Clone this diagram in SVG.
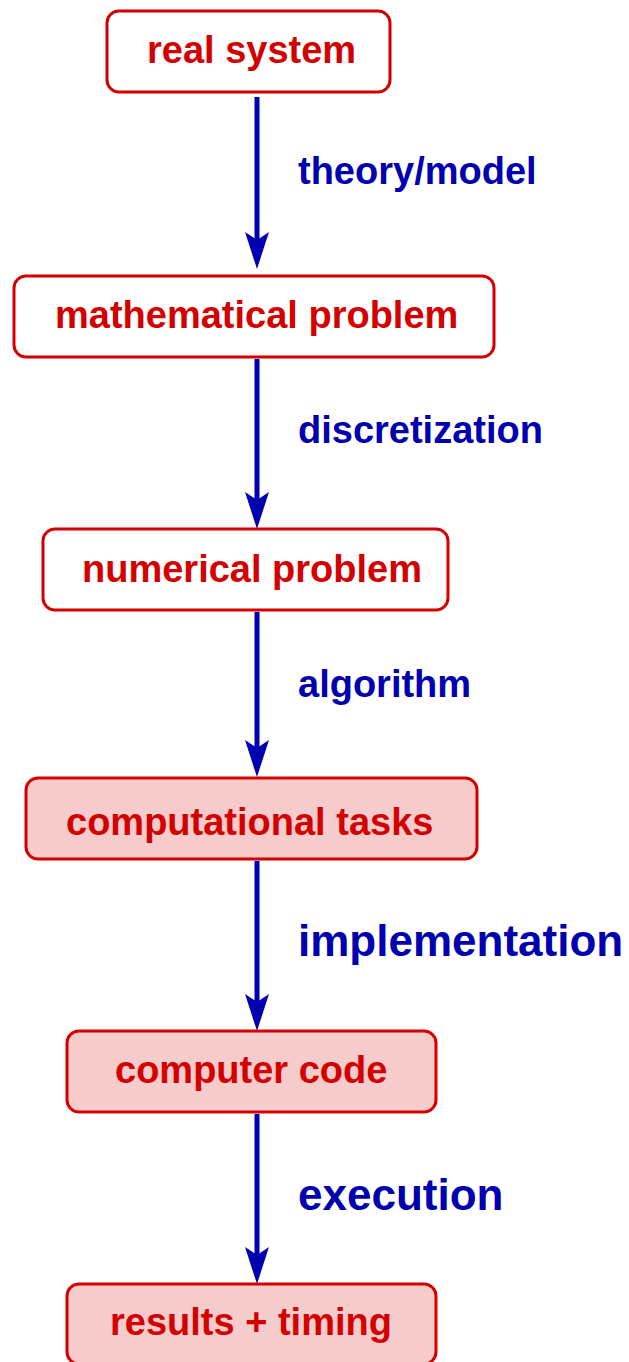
<svg xmlns="http://www.w3.org/2000/svg" width="629" height="1362" viewBox="0 0 629 1362">
<defs>
<style>
.box{fill:#ffffff;stroke:#d40000;stroke-width:3}
.box.f{fill:#f5cbcb}
.nt{font-family:"Liberation Sans",Arial,sans-serif;font-weight:bold;font-size:38px;fill:#d40000}
.lt{font-family:"Liberation Sans",Arial,sans-serif;font-weight:bold;font-size:38px;fill:#0000b0}
.lt.big{font-size:44px}
.ar{stroke:#0000b0;stroke-width:5;fill:none}
.ah{fill:#0000b0}
</style>
</defs>
<rect width="629" height="1362" fill="#ffffff"/>
<g id="connectors">
<line class="ar" x1="257" y1="97" x2="257" y2="240"/>
<polygon class="ah" points="245,232 257,269 269,232 257,240"/>
<line class="ar" x1="257" y1="359" x2="257" y2="500"/>
<polygon class="ah" points="245,492 257,529 269,492 257,500"/>
<line class="ar" x1="257" y1="612" x2="257" y2="748"/>
<polygon class="ah" points="245,740 257,777 269,740 257,748"/>
<line class="ar" x1="257" y1="861" x2="257" y2="1002"/>
<polygon class="ah" points="245,994 257,1031 269,994 257,1002"/>
<line class="ar" x1="257" y1="1114" x2="257" y2="1255"/>
<polygon class="ah" points="245,1247 257,1284 269,1247 257,1255"/>
<text class="lt" x="298" y="184">theory/model</text>
<text class="lt" x="298" y="443">discretization</text>
<text class="lt" x="298" y="697">algorithm</text>
<text class="lt big" x="298" y="956">implementation</text>
<text class="lt big" x="298" y="1210">execution</text>
</g>
<g id="real-system">
<rect class="box" x="107" y="11" width="283" height="81" rx="12"/>
<text class="nt" x="147" y="63">real system</text>
</g>
<g id="mathematical-problem">
<rect class="box" x="14" y="276" width="480" height="81" rx="12"/>
<text class="nt" x="55" y="328">mathematical problem</text>
</g>
<g id="numerical-problem">
<rect class="box" x="43" y="529" width="405" height="81" rx="12"/>
<text class="nt" x="82" y="582">numerical problem</text>
</g>
<g id="computational-tasks">
<rect class="box f" x="26" y="778" width="451" height="81" rx="12"/>
<text class="nt" x="66" y="835">computational tasks</text>
</g>
<g id="computer-code">
<rect class="box f" x="67" y="1031" width="369" height="81" rx="12"/>
<text class="nt" x="115" y="1083">computer code</text>
</g>
<g id="results-timing">
<rect class="box f" x="67" y="1284" width="369" height="80" rx="12"/>
<text class="nt" x="110" y="1335">results + timing</text>
</g>
</svg>
